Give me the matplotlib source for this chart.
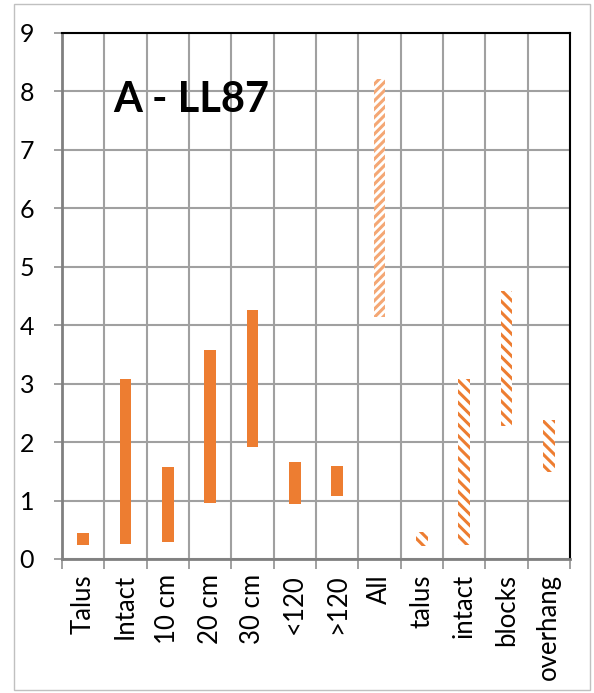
import matplotlib.pyplot as plt
from matplotlib.patches import Rectangle

categories = ["Talus", "Intact", "10 cm", "20 cm", "30 cm", "<120", ">120",
              "All", "talus", "intact", "blocks", "overhang"]
lows = [0.24, 0.26, 0.29, 0.96, 1.91, 0.94, 1.08, 4.14, 0.23, 0.24, 2.28, 1.49]
highs = [0.45, 3.08, 1.57, 3.58, 4.26, 1.66, 1.59, 8.21, 0.46, 3.08, 4.59, 2.38]
# 0 = solid, 1 = dashed upward diagonal, 2 = wide downward diagonal
styles = [0, 0, 0, 0, 0, 0, 0, 1, 2, 2, 2, 2]

ORANGE = "#ED7D31"

plt.rcParams["font.family"] = ["Lato", "DejaVu Sans"]
plt.rcParams["hatch.linewidth"] = 2.2

fig = plt.figure(figsize=(5.94, 6.93), dpi=100)
ax = fig.add_axes([62 / 594, 1 - 559 / 693, 508 / 594, 526 / 693])

xs = list(range(len(categories)))
for x, lo, hi, st in zip(xs, lows, highs, styles):
    if st == 0:
        ax.bar(x, hi - lo, bottom=lo, width=0.28, color=ORANGE, linewidth=0, zorder=3)
    elif st == 1:
        ax.bar(x, hi - lo, bottom=lo, width=0.28, facecolor="white",
               edgecolor="#F4A774", hatch="////", linewidth=0, zorder=3)
    else:
        ax.bar(x, hi - lo, bottom=lo, width=0.28, facecolor="white",
               edgecolor=ORANGE, hatch="\\\\\\", linewidth=0, zorder=3)

ax.set_xlim(-0.5, len(categories) - 0.5)
ax.set_ylim(0, 9)
ax.set_yticks(range(10))
ax.set_xticks([i - 0.5 for i in range(len(categories) + 1)])
ax.set_xticklabels([])
ax.set_xticks(xs, minor=True)
ax.set_xticklabels(categories, minor=True, rotation=90, fontsize=18.5)
ax.tick_params(axis="x", which="minor", length=0, pad=11)
ax.tick_params(axis="x", which="major", length=7, color="#909090", width=1.2)
ax.tick_params(axis="y", length=6, color="#909090", width=1.2, labelsize=18, pad=14)

ax.grid(True, color="#A0A0A0", linewidth=1.5, zorder=0)
ax.set_axisbelow(True)
for side in ["top", "right"]:
    ax.spines[side].set_color("black")
    ax.spines[side].set_linewidth(1.5)
for side in ["left", "bottom"]:
    ax.spines[side].set_color("#808080")
    ax.spines[side].set_linewidth(2)

ax.text(0.72, 7.85, "A - LL87", fontsize=30, fontweight="bold",
        va="center", ha="left")

fig.patches.append(Rectangle((14 / 594, 3 / 693), 576 / 594, 686 / 693,
                             transform=fig.transFigure, fill=False,
                             edgecolor="#C0C0C0", linewidth=1))

fig.savefig("out.png", dpi=100)
